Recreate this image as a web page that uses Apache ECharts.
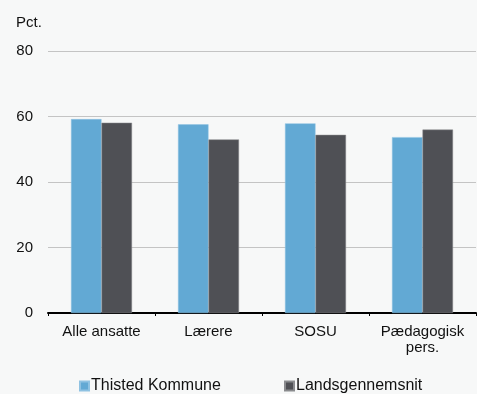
<!DOCTYPE html>
<html><head><meta charset="utf-8">
<script src="https://cdn.jsdelivr.net/npm/echarts@6/dist/echarts.min.js"></script>
<style>html,body{margin:0;padding:0;background:#f7f8f8;}#c{width:477px;height:394px;}</style>
</head><body><div id="c"></div>
<script>
const categories = ['Alle ansatte', 'Lærere', 'SOSU', 'Pædagogisk\npers.'];
const thisted = [59.2, 57.6, 57.9, 53.7];
const lands = [58.1, 53.0, 54.4, 56.0];
const seriesNames = ['Thisted Kommune', 'Landsgennemsnit'];
const yTicks = [0, 20, 40, 60, 80];

const chart = echarts.init(document.getElementById('c'), null, {renderer: 'canvas'});
const font = 'Liberation Sans, Arial, Helvetica, sans-serif';
const legendBase = {
  top: 378, padding: 0,
  itemWidth: 9, itemHeight: 9, icon: 'rect',
  textStyle: {fontFamily: font, fontSize: 16, color: '#111', padding: [0, 0, 0, -3]}
};
chart.setOption({
  backgroundColor: '#f7f8f8',
  animation: false,
  textStyle: {fontFamily: font},
  grid: {left: 48, right: 1, top: 51, bottom: 81, containLabel: false},
  legend: [
    Object.assign({left: 79, data: [seriesNames[0]]}, legendBase),
    Object.assign({left: 284, data: [seriesNames[1]]}, legendBase)
  ],
  graphic: [{type: 'text', left: 16, top: 15, style: {text: 'Pct.', fontFamily: font, fontSize: 15, fill: '#111'}}],
  xAxis: {
    type: 'category', data: categories,
    axisLine: {lineStyle: {color: '#000', width: 2}},
    axisTick: {show: true, interval: 0, length: 3, lineStyle: {color: '#000', width: 1}},
    axisLabel: {interval: 0, color: '#111', fontSize: 15, fontFamily: font, margin: 11, lineHeight: 16}
  },
  yAxis: {
    type: 'value', min: yTicks[0], max: yTicks[yTicks.length - 1], interval: 20,
    axisLine: {show: false}, axisTick: {show: false},
    axisLabel: {color: '#111', fontSize: 15, fontFamily: font, margin: 15},
    splitLine: {lineStyle: {color: '#c4c4c4', width: 1}}
  },
  series: [
    {name: seriesNames[0], type: 'bar', data: thisted, barGap: '0%', barCategoryGap: '43%',
     itemStyle: {color: '#62a9d4', borderColor: '#8fc2e2', borderWidth: 0.5}},
    {name: seriesNames[1], type: 'bar', data: lands,
     itemStyle: {color: '#4f5055', borderColor: '#8a8b8e', borderWidth: 0.5}}
  ]
});
</script></body></html>
